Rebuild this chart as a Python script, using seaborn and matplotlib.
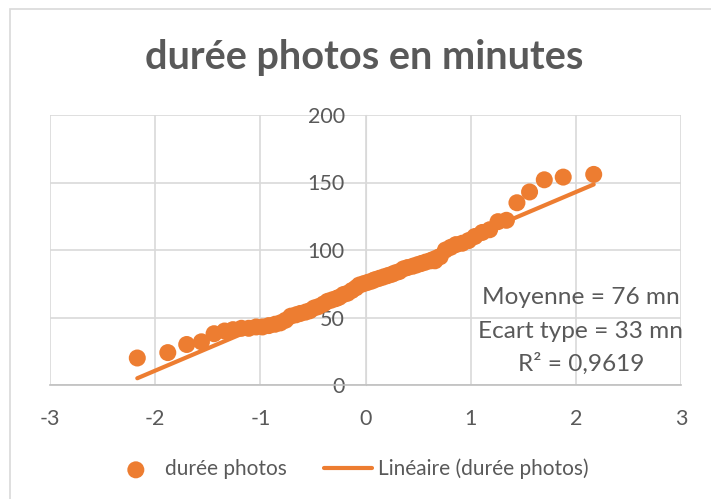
import numpy as np
import pandas as pd
import seaborn as sns
import matplotlib.pyplot as plt
from matplotlib.patches import Rectangle

# quantiles théoriques (axe x) et durées (axe y)
quantiles = [-2.17, -1.88, -1.70, -1.56, -1.44, -1.34, -1.26, -1.18, -1.11, -1.04,
             -0.98, -0.92, -0.86, -0.81, -0.76, -0.71, -0.66, -0.62, -0.57, -0.53,
             -0.49, -0.45, -0.40, -0.36, -0.32, -0.28, -0.25, -0.21, -0.17, -0.13,
             -0.09, -0.06, -0.02, 0.02, 0.06, 0.09, 0.13, 0.17, 0.21, 0.25,
             0.28, 0.32, 0.36, 0.40, 0.45, 0.49, 0.53, 0.57, 0.62, 0.66,
             0.71, 0.76, 0.81, 0.86, 0.92, 0.98, 1.04, 1.11, 1.18, 1.26,
             1.34, 1.44, 1.56, 1.70, 1.88, 2.17]
durees = [20, 24, 30, 32, 38, 40, 41, 42, 42, 43,
          43, 44, 45, 46, 48, 51, 52, 53, 54, 55,
          57, 58, 60, 62, 63, 64, 65, 67, 68, 70,
          72, 74, 75, 76, 77, 78, 79, 80, 81, 82,
          83, 84, 86, 87, 88, 89, 90, 91, 92, 92,
          95, 100, 102, 104, 105, 107, 110, 113, 115, 121,
          122, 135, 143, 152, 154, 156]

titre = 'durée photos en minutes'
label_points = 'durée photos'
label_ligne = 'Linéaire (durée photos)'
stats_txt = ['Moyenne = 76 mn', 'Ecart type = 33 mn', 'R² = 0,9619']
x_ticks = [-3, -2, -1, 0, 1, 2, 3]
y_ticks = [0, 50, 100, 150, 200]

orange = '#ED7D31'
gris_txt = '#595959'
gris_grille = '#D9D9D9'

sns.set_style('white')
plt.rcParams['font.family'] = ['Lato', 'DejaVu Sans']
plt.rcParams['axes.unicode_minus'] = False

df = pd.DataFrame({'q': quantiles, 'duree': durees})

fig = plt.figure(figsize=(7.11, 4.99), dpi=100)
fig.patches.append(Rectangle((10/711, -0.05), 1.2, 1 - 9/499 + 0.05,
                             transform=fig.transFigure, fill=False,
                             edgecolor=gris_grille, lw=1.2))

ax = fig.add_axes([50/711, 1 - 385/499, 631/711, 270/499])

sns.scatterplot(data=df, x='q', y='duree', s=150, color=orange, edgecolor='none',
                label=label_points, ax=ax, zorder=3)
sns.regplot(data=df, x='q', y='duree', scatter=False, ci=None, truncate=True,
            color=orange, ax=ax, label=label_ligne,
            line_kws=dict(lw=3, solid_capstyle='round', zorder=4))

ax.set_xlim(-3, 3)
ax.set_ylim(0, 200)
ax.set_xticks(x_ticks)
ax.set_yticks(y_ticks)
ax.set_xlabel('')
ax.set_ylabel('')
ax.grid(True, color=gris_grille, lw=1.2)
ax.set_axisbelow(True)

for s in ['top', 'right']:
    ax.spines[s].set_visible(False)
ax.spines['left'].set_position(('data', 0))
ax.spines['left'].set_color(gris_grille)
ax.spines['bottom'].set_color('#BFBFBF')
ax.spines['bottom'].set_linewidth(1.2)
ax.tick_params(axis='both', length=0, labelsize=15.5, labelcolor=gris_txt)
ax.tick_params(axis='y', pad=15)
ax.tick_params(axis='x', pad=17)

fig.text(364.5/711, 1 - 57/499, titre, ha='center', va='center',
         fontsize=28.5, fontweight='bold', color=gris_txt)

for i, t in enumerate(stats_txt):
    fig.text(581/711, 1 - (298 + 33*i)/499, t, ha='center', va='center',
             fontsize=17.6, color=gris_txt)

h, l = ax.get_legend_handles_labels()
ax.legend(h, l, loc='center', bbox_to_anchor=(350/711, 1 - 469/499),
          bbox_transform=fig.transFigure, ncol=2, frameon=False,
          handlelength=2.3, handletextpad=0.25, columnspacing=1.8,
          fontsize=15, labelcolor=gris_txt)

fig.savefig('out.png', dpi=100)
